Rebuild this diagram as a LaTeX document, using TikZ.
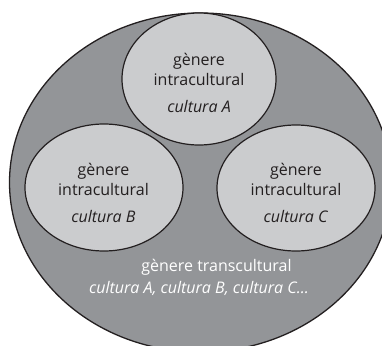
\documentclass[tikz,border=0pt]{standalone}
\usepackage{fontspec}
\setmainfont{Open Sans}
\usetikzlibrary{shapes.geometric}
\definecolor{outergray}{HTML}{939598}
\definecolor{innergray}{HTML}{CBCCCE}
\definecolor{inkdark}{HTML}{231F20}
\tikzset{
  outerell/.style={ellipse, draw=inkdark, line width=1.3bp, fill=outergray, inner sep=0pt},
  innerell/.style={ellipse, draw=inkdark, line width=1.2bp, fill=innergray, inner sep=0pt},
  innertext/.style={anchor=base, text=inkdark, font=\fontsize{16bp}{19bp}\selectfont, inner sep=0pt},
  outertext/.style={anchor=base, text=white, font=\fontsize{16bp}{19bp}\selectfont, inner sep=0pt}
}
\begin{document}
\begin{tikzpicture}[x=1bp,y=-1bp]
\useasboundingbox (0,0) rectangle (382,346);
\clip (0,0) rectangle (382,346);
\node[outerell, minimum width=382bp, minimum height=339bp] (T) at (200.5,182.5) {};
\node[innerell, minimum width=154bp, minimum height=132bp] (A) at (199,79) {};
\node[innerell, minimum width=158bp, minimum height=127bp] (B) at (104,187.5) {};
\node[innerell, minimum width=158bp, minimum height=126bp] (C) at (296,188) {};
\node[innertext] (A1) at (199,65) {gènere};
\node[innertext] (A2) at (199,85) {intracultural};
\node[innertext] (A3) at (199,112.7) {\textit{cultura A}};
\node[innertext] (B1) at (103.5,175) {gènere};
\node[innertext] (B2) at (103.5,195) {intracultural};
\node[innertext] (B3) at (103.5,222.7) {\textit{cultura B}};
\node[innertext] (C1) at (296,175) {gènere};
\node[innertext] (C2) at (296,195) {intracultural};
\node[innertext] (C3) at (296,222.7) {\textit{cultura C}};
\node[outertext] (Tt1) at (216.5,271) {gènere transcultural};
\node[outertext] (Tt2) at (199,293) {\textit{cultura A, cultura B, cultura C...}};
\end{tikzpicture}
\end{document}
